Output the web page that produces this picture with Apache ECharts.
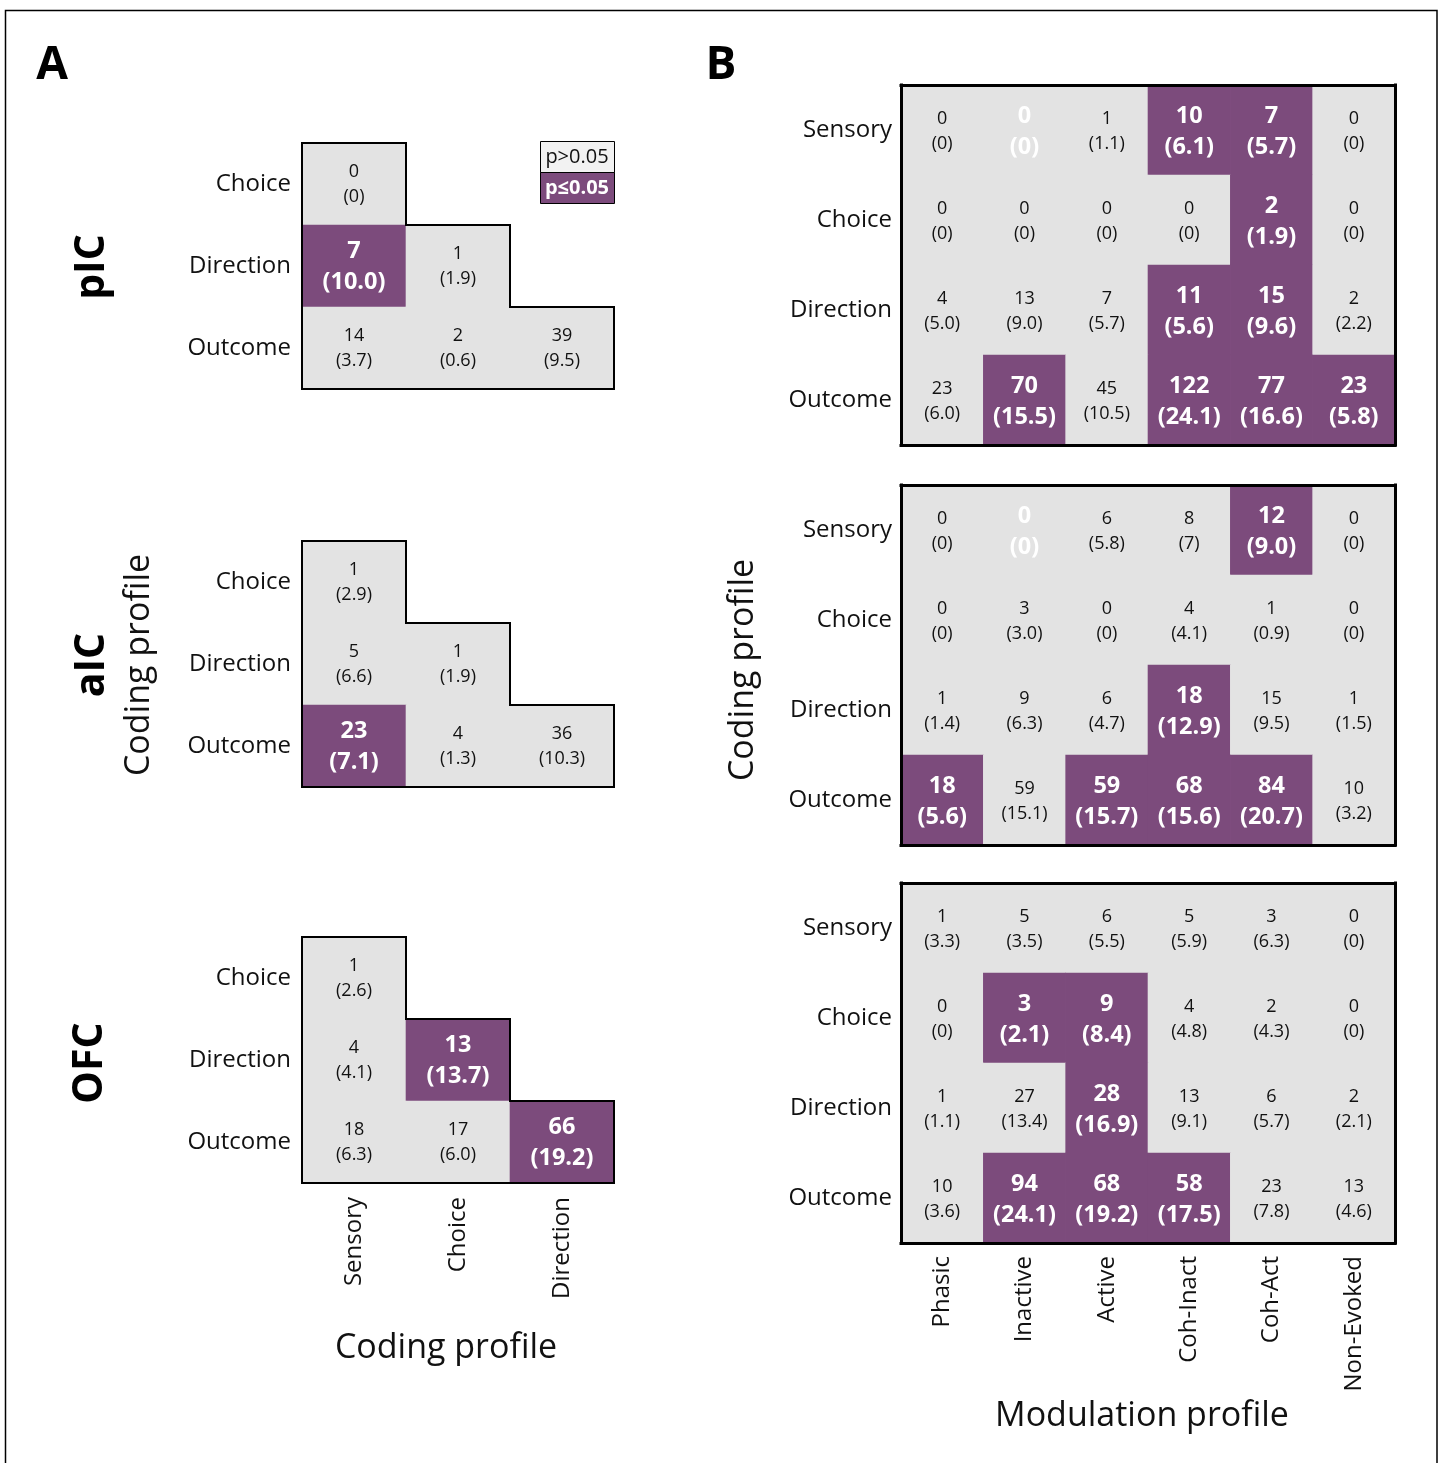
<!DOCTYPE html>
<html>
<head>
<meta charset="utf-8">
<script src="https://cdn.jsdelivr.net/npm/echarts@6/dist/echarts.min.js"></script>
<style>
  html, body { margin: 0; padding: 0; background: #fff; }
  #chart { width: 1443px; height: 1463px; }
</style>
</head>
<body>
<div id="chart"></div>
<script>
// ---- categories ----
const codingRows = ['Choice', 'Direction', 'Outcome'];
const codingCols = ['Sensory', 'Choice', 'Direction'];
const modRows = ['Sensory', 'Choice', 'Direction', 'Outcome'];
const modCols = ['Phasic', 'Inactive', 'Active', 'Coh-Inact', 'Coh-Act', 'Non-Evoked'];
const regionNames = ['pIC', 'aIC', 'OFC'];

// ---- panel A: co-coding counts (lower triangle), percent labels, significance ----
// significance: 1 = p≤0.05, 0 = p>0.05, 2 = not testable
const picCounts = [[0, null, null], [7, 1, null], [14, 2, 39]];
const picPct    = [['0', null, null], ['10.0', '1.9', null], ['3.7', '0.6', '9.5']];
const picSig    = [[0, null, null], [1, 0, null], [0, 0, 0]];

const aicCounts = [[1, null, null], [5, 1, null], [23, 4, 36]];
const aicPct    = [['2.9', null, null], ['6.6', '1.9', null], ['7.1', '1.3', '10.3']];
const aicSig    = [[0, null, null], [0, 0, null], [1, 0, 0]];

const ofcCounts = [[1, null, null], [4, 13, null], [18, 17, 66]];
const ofcPct    = [['2.6', null, null], ['4.1', '13.7', null], ['6.3', '6.0', '19.2']];
const ofcSig    = [[0, null, null], [0, 1, null], [0, 0, 1]];

// ---- panel B: coding x modulation counts, percent labels, significance ----
const picModCounts = [
  [0, 0, 1, 10, 7, 0],
  [0, 0, 0, 0, 2, 0],
  [4, 13, 7, 11, 15, 2],
  [23, 70, 45, 122, 77, 23]
];
const picModPct = [
  ['0', '0', '1.1', '6.1', '5.7', '0'],
  ['0', '0', '0', '0', '1.9', '0'],
  ['5.0', '9.0', '5.7', '5.6', '9.6', '2.2'],
  ['6.0', '15.5', '10.5', '24.1', '16.6', '5.8']
];
const picModSig = [
  [0, 2, 0, 1, 1, 0],
  [0, 0, 0, 0, 1, 0],
  [0, 0, 0, 1, 1, 0],
  [0, 1, 0, 1, 1, 1]
];

const aicModCounts = [
  [0, 0, 6, 8, 12, 0],
  [0, 3, 0, 4, 1, 0],
  [1, 9, 6, 18, 15, 1],
  [18, 59, 59, 68, 84, 10]
];
const aicModPct = [
  ['0', '0', '5.8', '7', '9.0', '0'],
  ['0', '3.0', '0', '4.1', '0.9', '0'],
  ['1.4', '6.3', '4.7', '12.9', '9.5', '1.5'],
  ['5.6', '15.1', '15.7', '15.6', '20.7', '3.2']
];
const aicModSig = [
  [0, 2, 0, 0, 1, 0],
  [0, 0, 0, 0, 0, 0],
  [0, 0, 0, 1, 0, 0],
  [1, 0, 1, 1, 1, 0]
];

const ofcModCounts = [
  [1, 5, 6, 5, 3, 0],
  [0, 3, 9, 4, 2, 0],
  [1, 27, 28, 13, 6, 2],
  [10, 94, 68, 58, 23, 13]
];
const ofcModPct = [
  ['3.3', '3.5', '5.5', '5.9', '6.3', '0'],
  ['0', '2.1', '8.4', '4.8', '4.3', '0'],
  ['1.1', '13.4', '16.9', '9.1', '5.7', '2.1'],
  ['3.6', '24.1', '19.2', '17.5', '7.8', '4.6']
];
const ofcModSig = [
  [0, 0, 0, 0, 0, 0],
  [0, 1, 1, 0, 0, 0],
  [0, 0, 1, 0, 0, 0],
  [0, 1, 1, 1, 0, 0]
];

// ---- styling ----
const FONT = '"Open Sans", "Noto Sans", sans-serif';
const GREY = '#e3e3e3';
const PURPLE = '#7c4b7c';

// Turn matrices into [col, row, count, pctLabel, sig] cells, skipping empty slots
function toCells(counts, pct, sig) {
  const out = [];
  counts.forEach((row, r) => row.forEach((v, c) => {
    if (v !== null) out.push([c, r, v, pct[r][c], sig[r][c]]);
  }));
  return out;
}

// Draw each cell as a filled rect with its two-line label; outline edges
// that face an empty slot (gives the staircase border of the triangles)
function makeRenderer(cells, edgeWidth, shift) {
  const present = new Set(cells.map(d => d[0] + ',' + d[1]));
  return function (params, api) {
    const d = cells[params.dataIndex];
    const col = d[0], row = d[1];
    const c = api.coord([col, row]);
    const s = api.size([1, 1]);
    const x0 = c[0] - s[0] / 2, y0 = c[1] - s[1] / 2;
    const sig = d[4];
    const bold = sig !== 0;
    const fill = sig === 1 ? PURPLE : GREY;
    const txtColor = sig === 0 ? '#111' : '#fff';
    const fs = bold ? 23.5 : 18;
    const up = bold ? 15.5 : 12.5;
    const cy = c[1] + shift;
    const children = [
      { type: 'rect', shape: { x: x0 - 0.3, y: y0 - 0.3, width: s[0] + 0.6, height: s[1] + 0.6 },
        style: { fill: fill }, z2: 0 },
      { type: 'text', z2: 5, style: { text: String(d[2]), x: c[0], y: cy - up,
        align: 'center', verticalAlign: 'middle', fill: txtColor,
        fontSize: fs, fontWeight: bold ? 'bold' : 'normal', fontFamily: FONT } },
      { type: 'text', z2: 5, style: { text: '(' + d[3] + ')', x: c[0], y: cy + up,
        align: 'center', verticalAlign: 'middle', fill: txtColor,
        fontSize: fs, fontWeight: bold ? 'bold' : 'normal', fontFamily: FONT } }
    ];
    if (edgeWidth) {
      const ls = { stroke: '#000', lineWidth: edgeWidth, lineCap: 'square' };
      if (!present.has(col + ',' + (row - 1)))
        children.push({ type: 'line', z2: 10, shape: { x1: x0, y1: y0, x2: x0 + s[0], y2: y0 }, style: ls });
      if (!present.has((col + 1) + ',' + row))
        children.push({ type: 'line', z2: 10, shape: { x1: x0 + s[0], y1: y0, x2: x0 + s[0], y2: y0 + s[1] }, style: ls });
    }
    return { type: 'group', children: children };
  };
}

const grids = [], xAxes = [], yAxes = [], series = [];

// ---- panel A grids ----
const aTops = [143, 541, 937];
const aSets = [
  [picCounts, picPct, picSig],
  [aicCounts, aicPct, aicSig],
  [ofcCounts, ofcPct, ofcSig]
];
aSets.forEach((set, i) => {
  const g = grids.length;
  grids.push({ left: 302, top: aTops[i], width: 312, height: 246 });
  const xi = xAxes.length, yi = yAxes.length;
  xAxes.push({
    gridIndex: g, type: 'category', data: codingCols, position: 'bottom', z: 10,
    axisLine: { lineStyle: { color: '#000', width: 2, cap: 'square' } },
    axisTick: { alignWithLabel: true, inside: true, length: 5, lineStyle: { color: '#000', width: 1.5 } },
    axisLabel: { show: i === 2, rotate: 90, margin: 14, color: '#111', fontSize: 24, fontFamily: FONT },
    splitLine: { show: false }
  });
  yAxes.push({
    gridIndex: g, type: 'category', data: codingRows, inverse: true, position: 'left', z: 10,
    axisLine: { lineStyle: { color: '#000', width: 2, cap: 'square' } },
    axisTick: { alignWithLabel: true, inside: true, length: 5, lineStyle: { color: '#000', width: 1.5 } },
    axisLabel: { margin: 11, color: '#111', fontSize: 24, fontFamily: FONT },
    splitLine: { show: false }
  });
  const cells = toCells(set[0], set[1], set[2]);
  series.push({
    type: 'custom', xAxisIndex: xi, yAxisIndex: yi, coordinateSystem: 'cartesian2d',
    encode: { x: 0, y: 1 }, data: cells, renderItem: makeRenderer(cells, 2, 0.5), silent: true
  });
});

// ---- panel B grids ----
const bTops = [85, 485, 883];
const bSets = [
  [picModCounts, picModPct, picModSig],
  [aicModCounts, aicModPct, aicModSig],
  [ofcModCounts, ofcModPct, ofcModSig]
];
bSets.forEach((set, i) => {
  const g = grids.length;
  grids.push({ left: 901, top: bTops[i], width: 494, height: 360 });
  const tick = { alignWithLabel: true, inside: true, length: 6, lineStyle: { color: '#000', width: 2 } };
  const line = { lineStyle: { color: '#000', width: 3, cap: 'square' } };
  const xi = xAxes.length, yi = yAxes.length;
  xAxes.push({
    gridIndex: g, type: 'category', data: modCols, position: 'bottom', z: 10,
    axisLine: line, axisTick: tick,
    axisLabel: { show: i === 2, rotate: 90, margin: 13, color: '#111', fontSize: 24, fontFamily: FONT },
    splitLine: { show: false }
  });
  xAxes.push({
    gridIndex: g, type: 'category', data: modCols, position: 'top', z: 10,
    axisLine: line, axisTick: tick, axisLabel: { show: false }, splitLine: { show: false }
  });
  yAxes.push({
    gridIndex: g, type: 'category', data: modRows, inverse: true, position: 'left', z: 10,
    axisLine: line, axisTick: tick,
    axisLabel: { margin: 9, color: '#111', fontSize: 24, fontFamily: FONT },
    splitLine: { show: false }
  });
  yAxes.push({
    gridIndex: g, type: 'category', data: modRows, inverse: true, position: 'right', z: 10,
    axisLine: line, axisTick: tick, axisLabel: { show: false }, splitLine: { show: false }
  });
  const cells = toCells(set[0], set[1], set[2]);
  series.push({
    type: 'custom', xAxisIndex: xi, yAxisIndex: yi, coordinateSystem: 'cartesian2d',
    encode: { x: 0, y: 1 }, data: cells, renderItem: makeRenderer(cells, 0, 1.5), silent: true
  });
});

// ---- titles, panel letters, legend, frame ----
function label(text, x, y, opts) {
  return Object.assign({
    type: 'text', x: x, y: y, silent: true,
    style: Object.assign({ text: text, align: 'center', verticalAlign: 'middle',
      fill: '#000', fontFamily: FONT }, opts.style)
  }, opts.rotate ? { rotation: Math.PI / 2 } : {});
}

const graphics = [
  { type: 'rect', silent: true, shape: { x: 5.5, y: 10.5, width: 1431.5, height: 1470 },
    style: { fill: 'none', stroke: '#000', lineWidth: 1.5 } },
  label('A', 52, 66, { style: { fontSize: 46, fontWeight: 'bold' } }),
  label('B', 721, 66, { style: { fontSize: 46, fontWeight: 'bold' } }),
  label(regionNames[0], 92, 267, { rotate: true, style: { fontSize: 41, fontWeight: 'bold' } }),
  label(regionNames[1], 92, 665, { rotate: true, style: { fontSize: 41, fontWeight: 'bold' } }),
  label(regionNames[2], 90, 1063, { rotate: true, style: { fontSize: 41, fontWeight: 'bold' } }),
  label('Coding profile', 139, 665, { rotate: true, style: { fontSize: 34, fill: '#111' } }),
  label('Coding profile', 446, 1348, { style: { fontSize: 34, fill: '#111' } }),
  label('Coding profile', 743, 670, { rotate: true, style: { fontSize: 34, fill: '#111' } }),
  label('Modulation profile', 1142, 1416, { style: { fontSize: 34, fill: '#111' } }),
  // significance legend
  { type: 'rect', silent: true, shape: { x: 540.5, y: 141.5, width: 74, height: 31 },
    style: { fill: '#f2f2f2', stroke: '#000', lineWidth: 1 } },
  { type: 'rect', silent: true, shape: { x: 540.5, y: 172.5, width: 74, height: 31 },
    style: { fill: PURPLE, stroke: '#000', lineWidth: 1 } },
  label('p>0.05', 577, 157, { style: { fontSize: 20, fill: '#111' } }),
  label('p\u22640.05', 577, 188, { style: { fontSize: 20, fill: '#fff', fontWeight: 'bold' } })
];

const chart = echarts.init(document.getElementById('chart'), null, { renderer: 'canvas' });
chart.setOption({
  backgroundColor: '#fff',
  animation: false,
  textStyle: { fontFamily: FONT },
  grid: grids,
  xAxis: xAxes,
  yAxis: yAxes,
  series: series,
  graphic: graphics
});
</script>
</body>
</html>
